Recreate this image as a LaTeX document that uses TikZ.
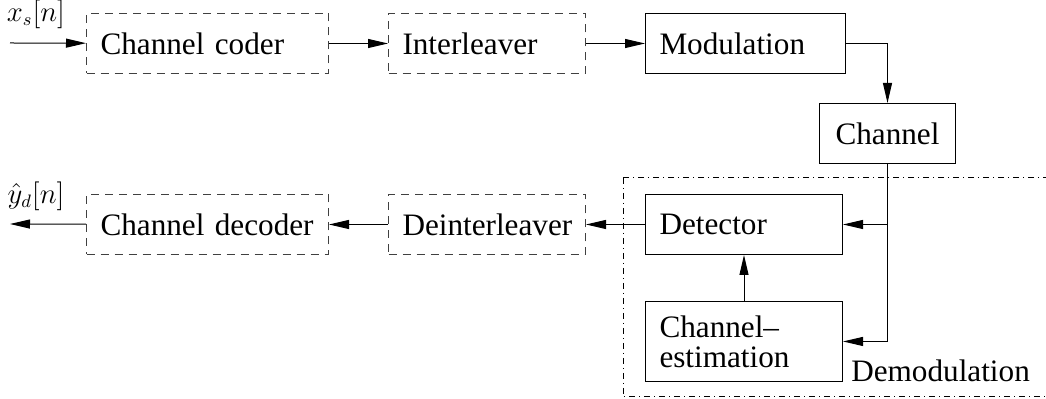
\documentclass[tikz,border=0pt]{standalone}
\usepackage{fontspec}
\setmainfont{Liberation Serif}
\usetikzlibrary{arrows.meta}
\tikzset{
  blk/.style={draw, rectangle, inner sep=7pt, align=left, minimum height=30pt, font=\fontsize{15.6}{15}\selectfont},
  dblk/.style={blk, dash pattern=on 4pt off 3pt, draw=black!75},
  sig/.style={-{Triangle[length=10pt, width=4.5pt]}}
}
\begin{document}
\begin{tikzpicture}[x=0.5pt, y=-0.5pt, line width=0.5pt]
    \useasboundingbox (0,0) rectangle (1046,399);
    % transmitter
    \node[dblk, text width=107pt, anchor=north west] (coder) at (86,13) {Channel coder};
    \node[dblk, text width=84.5pt, anchor=north west] (inter) at (388,13) {Interleaver};
    \node[blk, text width=86pt, anchor=north west] (mod) at (645,13) {Modulation};
    \node[blk, text width=54pt, anchor=north west, align=center] (chan) at (819,103) {Channel};
    % receiver
    \draw[dash dot] (623,178) rectangle (1052,397);
    \node[blk, text width=84.5pt, anchor=north west] (det) at (645,194) {Detector};
    \node[blk, text width=84.5pt, anchor=north west, minimum height=37.5pt] (est) at (645,301) {Channel--\\estimation};
    \node[font=\fontsize{15.6}{15}\selectfont, anchor=base east] (demod) at (1037,382) {Demodulation};
    \node[dblk, text width=84.5pt, anchor=north west] (deint) at (388,194) {Deinterleaver};
    \node[dblk, text width=107pt, anchor=north west] (decod) at (86,194) {Channel decoder};
    % in/out
    \coordinate (in) at (10,43);
    \coordinate (out) at (10,224);
    \node[font=\fontsize{13.5}{15}\selectfont] (xs) at (36,14) {$x_s[n]$};
    \node[font=\fontsize{13.5}{15}\selectfont] (yd) at (36,196) {$\hat{y}_d[n]$};
    % connectors
    \draw[sig] (in) -- (coder);
    \draw[sig] (coder) -- (inter);
    \draw[sig] (inter) -- (mod);
    \draw[sig] (mod) -| (chan);
    \draw[sig] (chan) |- (est);
    \draw[sig] (chan |- det) -- (det);
    \draw[sig] (est) -- (det);
    \draw[sig] (det) -- (deint);
    \draw[sig] (deint) -- (decod);
    \draw[sig] (decod) -- (out);
\end{tikzpicture}
\end{document}
